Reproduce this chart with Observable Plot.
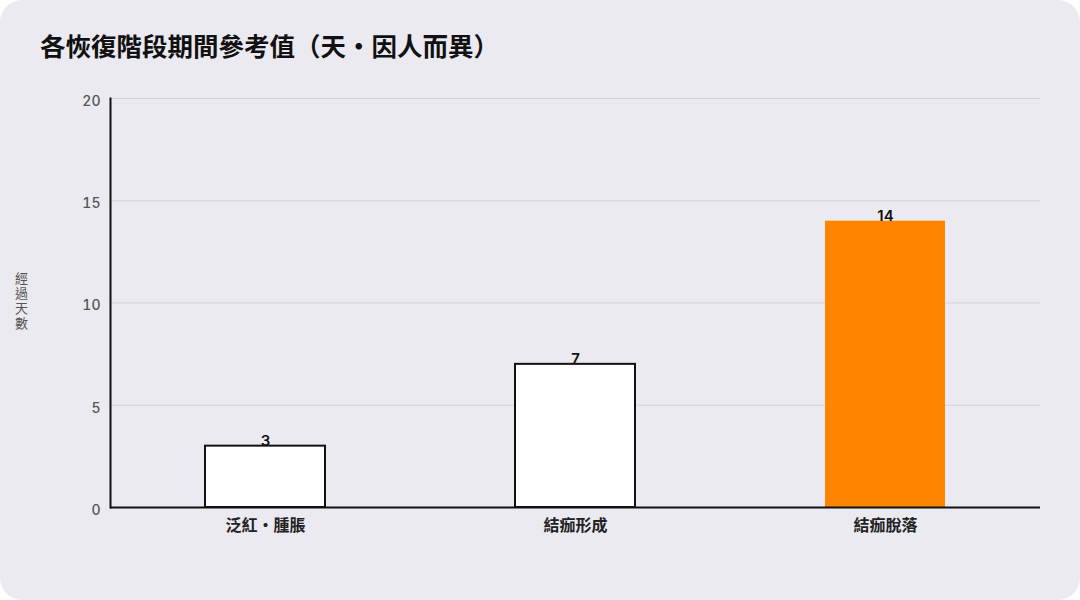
<!DOCTYPE html>
<html>
<head>
<meta charset="utf-8">
<script src="https://cdn.jsdelivr.net/npm/d3@7"></script>
<script src="https://cdn.jsdelivr.net/npm/@observablehq/plot@0.6"></script>
<style>
  html, body { margin: 0; padding: 0; background: #ffffff; }
  #card {
    position: relative; width: 1080px; height: 600px; background: #ebeaf0;
    border-radius: 22px; overflow: hidden;
    font-family: "Inter", "Noto Sans CJK TC", sans-serif;
  }
  #title {
    position: absolute; left: 40px; top: 28px; font-size: 25.5px; font-weight: 700;
    color: #111; font-family: "Noto Sans CJK TC", sans-serif; line-height: 34px;
  }
  #ylabel {
    position: absolute; left: 12px; top: 272px; writing-mode: vertical-rl;
    font-size: 13px; letter-spacing: 2px; color: #555; font-family: "Noto Sans CJK TC", sans-serif;
  }
  #chart { position: absolute; left: 0; top: 0; }
</style>
</head>
<body>
<div id="card">
  <div id="title">各恢復階段期間參考值（天・因人而異）</div>
  <div id="ylabel">經過天數</div>
  <div id="chart"></div>
</div>
<script>
const stages = ["泛紅・腫脹", "結痂形成", "結痂脫落"];
const days = [3, 7, 14];
const yTicks = [0, 5, 10, 15, 20];
const highlight = "結痂脫落";

const data = stages.map((s, i) => ({stage: s, days: days[i]}));

const chart = Plot.plot({
  width: 1080,
  height: 600,
  marginTop: 98,
  marginBottom: 93,
  marginLeft: 110,
  marginRight: 40,
  style: {background: "transparent", fontFamily: "Inter, 'Noto Sans CJK TC', sans-serif", overflow: "visible"},
  x: {domain: stages, padding: 0, label: null},
  y: {domain: [0, 20], label: null},
  marks: [
    Plot.gridY(yTicks, {stroke: "#d3d3d9", strokeOpacity: 1}),
    Plot.barY(data, {
      x: "stage", y: "days", insetLeft: 95, insetRight: 95,
      fill: d => d.stage === highlight ? "#ff8500" : "#ffffff",
      stroke: d => d.stage === highlight ? "none" : "#111111",
      strokeWidth: 2
    }),
    Plot.axisY(yTicks, {tickSize: 0, tickPadding: 10, dy: 3, fontSize: 14, fontWeight: 500, fill: "#555", label: null}),
    Plot.axisX({tickSize: 0, tickPadding: 12, fontSize: 16, fontWeight: 600, fill: "#222", label: null, fontFamily: "'Noto Sans CJK TC', sans-serif"}),
    Plot.ruleY([0], {stroke: "#111", strokeWidth: 2}),
    Plot.frame({anchor: "left", stroke: "#111", strokeWidth: 2}),
    Plot.text(data, {x: "stage", y: "days", text: d => String(d.days), lineAnchor: "bottom", dy: 0, fontSize: 15, fontWeight: 600, fill: "#111"})
  ]
});
document.getElementById("chart").append(chart);
</script>
</body>
</html>
